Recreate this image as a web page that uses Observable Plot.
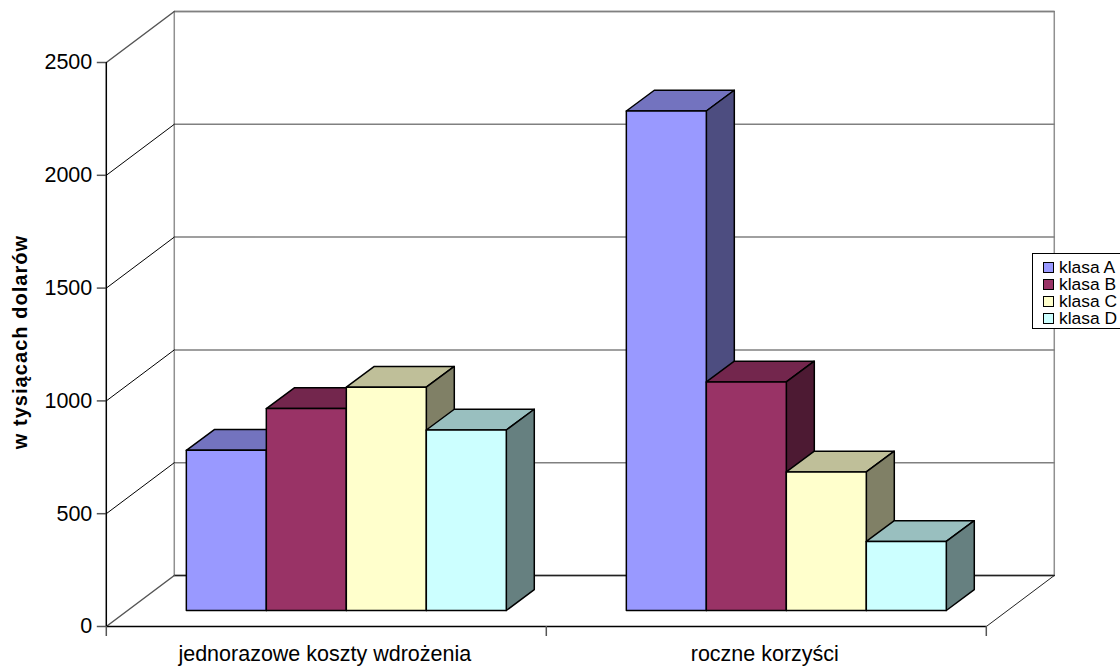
<!DOCTYPE html>
<html lang="pl">
<head>
<meta charset="utf-8">
<title>Koszty i korzyści</title>
<script src="https://cdn.jsdelivr.net/npm/d3@7"></script>
<script src="https://cdn.jsdelivr.net/npm/@observablehq/plot@0.6"></script>
<style>
  html, body { margin: 0; padding: 0; background: #fff; overflow: hidden; }
  #chart { position: relative; width: 1120px; height: 666px; overflow: hidden; }
  #chart svg { display: block; }
  .y-title text { letter-spacing: 1.05px; }
  .legend {
    position: absolute; left: 1032px; top: 253px; width: 100px; height: 74px;
    background: #fff; border: 1px solid #000; box-sizing: content-box;
    font: 17.4px "Liberation Sans", Arial, sans-serif; color: #000;
  }
  .legend div { position: absolute; left: 10px; height: 17px; line-height: 17px; white-space: nowrap; }
  .legend i { display: inline-block; width: 9px; height: 9px; border: 1px solid #000; margin-right: 5px; }
</style>
</head>
<body>
<div id="chart"></div>
<script>
// Wartości w tysiącach dolarów
const categories = ["jednorazowe koszty wdrożenia", "roczne korzyści"];
const seriesNames = ["klasa A", "klasa B", "klasa C", "klasa D"];
const oneOffCosts = [710, 895, 990, 800];
const annualBenefits = [2214, 1013, 614, 306];
const yTicks = [0, 500, 1000, 1500, 2000, 2500];

const frontColors = ["#9999ff", "#993366", "#ffffcc", "#ccffff"];
const topColors = ["#7373bf", "#73264d", "#bfbf99", "#99bfbf"];
const sideColors = ["#4d4d80", "#4d1a33", "#808066", "#668080"];

// Oblique projection expressed in scale units: one category is 1 on x, values on y.
const wallDx = 0.1545, wallDy = 226;    // full depth of the chart box
const barInsetDx = 0.0455, barInsetDy = 71; // from the front edge to the bars' front face
const barDx = 0.0636, barDy = 92;       // depth of one bar
const barWidth = 0.1818;                // width of one bar in category units

const ink = {stroke: "#000", strokeWidth: 1.5, curve: "linear"};
const poly = (points, fill, opts = ink) =>
  Plot.line(points, {x: "0", y: "1", fill, ...opts});

const marks = [];

// Back wall and the gridlines running around the box
const maxY = 2500;
marks.push(poly([[wallDx, wallDy], [2 + wallDx, wallDy], [2 + wallDx, maxY + wallDy], [wallDx, maxY + wallDy], [wallDx, wallDy]],
  "#fff", {stroke: "#909090", strokeWidth: 1.5}));
for (const t of yTicks) {
  marks.push(Plot.line([[wallDx, t + wallDy], [2 + wallDx, t + wallDy]],
    {x: "0", y: "1", stroke: t === 0 ? "#222" : "#808080", strokeWidth: 1.5}));
  marks.push(Plot.line([[0, t], [wallDx, t + wallDy]],
    {x: "0", y: "1", stroke: t === maxY || t === 0 ? "#555" : "#000", strokeWidth: t === maxY || t === 0 ? 1.5 : 1}));
}
// Floor edges at the front and on the right
marks.push(Plot.line([[2, 0], [2 + wallDx, wallDy]], {x: "0", y: "1", stroke: "#222", strokeWidth: 1}));
marks.push(Plot.line([[0, 0], [2, 0]], {x: "0", y: "1", stroke: "#000", strokeWidth: 1.5}));

// The bars: painted left to right, so that each one hides the side of its neighbour
[oneOffCosts, annualBenefits].forEach((values, c) => {
  const left = c + 0.5 - barWidth * values.length / 2 + barInsetDx;
  values.forEach((v, i) => {
    const x1 = left + i * barWidth, x2 = x1 + barWidth;
    const y0 = barInsetDy, y1 = barInsetDy + v;
    marks.push(poly([[x1, y1], [x2, y1], [x2 + barDx, y1 + barDy], [x1 + barDx, y1 + barDy], [x1, y1]], topColors[i]));
    marks.push(poly([[x2, y0], [x2 + barDx, y0 + barDy], [x2 + barDx, y1 + barDy], [x2, y1], [x2, y0]], sideColors[i]));
    marks.push(poly([[x1, y0], [x2, y0], [x2, y1], [x1, y1], [x1, y0]], frontColors[i]));
  });
});

const fontFamily = '"Liberation Sans", Arial, sans-serif';

marks.push(
  Plot.axisY({ticks: yTicks, tickSize: 9, tickPadding: 5, tickFormat: d => String(d), label: null, fontSize: 21.5, stroke: "#555", strokeWidth: 1.5, fill: "#000"}),
  Plot.ruleX([0], {y1: 0, y2: maxY, stroke: "#000", strokeWidth: 1.5}),
  Plot.axisX({ticks: [0, 1, 2], tickSize: 10, tickFormat: () => "", label: null, stroke: "#555", strokeWidth: 1.5}),
  Plot.text(categories, {x: (d, i) => i + 0.5, y: 0, text: d => d, dy: 28, dx: -1.5, fontSize: 21.5, fill: "#000"}),
  Plot.text(["w tysiącach dolarów"], {x: 0, y: 1261, text: d => d, rotate: -90, dx: -85.7, fontSize: 20, fontWeight: "bold", fill: "#000", className: "y-title"})
);

const chart = Plot.plot({
  width: 1120,
  height: 666,
  marginLeft: 105.8,
  marginRight: 134.2,
  marginTop: 62,
  marginBottom: 40,
  x: {domain: [0, 2]},
  y: {domain: [0, maxY]},
  style: {fontFamily, background: "#fff", overflow: "hidden"},
  marks
});

const host = document.getElementById("chart");
host.appendChild(chart);

const legend = document.createElement("div");
legend.className = "legend";
seriesNames.forEach((name, i) => {
  const row = document.createElement("div");
  row.style.top = `${4.5 + i * 17}px`;
  const swatch = document.createElement("i");
  swatch.style.background = frontColors[i];
  row.append(swatch, name);
  legend.append(row);
});
host.appendChild(legend);
</script>
</body>
</html>
